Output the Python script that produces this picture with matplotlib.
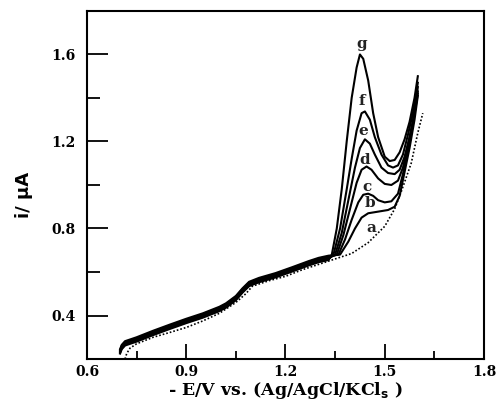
import matplotlib
matplotlib.use("Agg")
import matplotlib.pyplot as plt
from matplotlib.ticker import MultipleLocator

# ---------------- data ----------------
# shared low-potential background part of the solid voltammograms
e_base = [0.700, 0.705, 0.715, 0.75, 0.80, 0.85, 0.90, 0.95, 1.00, 1.02, 1.05,
          1.07, 1.09, 1.12, 1.17, 1.22, 1.27, 1.30, 1.33]
i_base = [0.235, 0.255, 0.272, 0.29, 0.32, 0.348, 0.375, 0.40, 0.43, 0.446, 0.48,
          0.515, 0.545, 0.563, 0.585, 0.612, 0.64, 0.655, 0.665]

# peak regions of curves b..g
e_g = [1.34, 1.355, 1.37, 1.385, 1.40, 1.415, 1.425, 1.435, 1.45, 1.465, 1.48, 1.50,
       1.515, 1.53, 1.545, 1.56, 1.575, 1.59, 1.60]
i_g = [0.68, 0.80, 0.98, 1.20, 1.40, 1.54, 1.60, 1.58, 1.48, 1.33, 1.22, 1.13,
       1.11, 1.115, 1.15, 1.21, 1.29, 1.40, 1.50]
e_f = [1.345, 1.365, 1.385, 1.40, 1.415, 1.43, 1.44, 1.455, 1.47, 1.49, 1.51, 1.525,
       1.54, 1.555, 1.57, 1.585, 1.60]
i_f = [0.68, 0.80, 0.98, 1.12, 1.25, 1.33, 1.338, 1.30, 1.22, 1.14, 1.09, 1.08,
       1.09, 1.14, 1.23, 1.33, 1.47]
e_e = [1.35, 1.37, 1.39, 1.41, 1.425, 1.44, 1.455, 1.47, 1.49, 1.51, 1.53, 1.545,
       1.56, 1.575, 1.59, 1.60]
i_e = [0.68, 0.78, 0.93, 1.08, 1.17, 1.21, 1.19, 1.14, 1.08, 1.055, 1.05, 1.07,
       1.13, 1.22, 1.33, 1.45]
e_d = [1.355, 1.375, 1.395, 1.415, 1.43, 1.445, 1.46, 1.48, 1.50, 1.52, 1.54, 1.555,
       1.57, 1.585, 1.60]
i_d = [0.68, 0.77, 0.89, 1.01, 1.07, 1.085, 1.07, 1.03, 1.005, 1.00, 1.02, 1.08,
       1.18, 1.29, 1.43]
e_c = [1.36, 1.38, 1.40, 1.42, 1.435, 1.45, 1.465, 1.48, 1.50, 1.52, 1.54, 1.555,
       1.57, 1.585, 1.60]
i_c = [0.68, 0.75, 0.84, 0.92, 0.955, 0.96, 0.95, 0.93, 0.92, 0.925, 0.96, 1.05,
       1.16, 1.28, 1.42]
e_b = [1.365, 1.39, 1.41, 1.43, 1.45, 1.47, 1.49, 1.51, 1.53, 1.545, 1.56, 1.575,
       1.59, 1.60]
i_b = [0.68, 0.74, 0.80, 0.85, 0.87, 0.875, 0.88, 0.885, 0.90, 0.95, 1.06, 1.17,
       1.30, 1.41]

# curve a (blank, dotted)
e_a = [0.715, 0.72, 0.73, 0.75, 0.80, 0.85, 0.90, 0.95, 1.00, 1.05, 1.08, 1.10,
       1.15, 1.20, 1.25, 1.30, 1.35, 1.40, 1.45, 1.50, 1.53, 1.55, 1.58, 1.60, 1.615]
i_a = [0.20, 0.225, 0.25, 0.27, 0.30, 0.322, 0.345, 0.375, 0.41, 0.46, 0.50, 0.535,
       0.56, 0.58, 0.61, 0.635, 0.66, 0.685, 0.735, 0.81, 0.89, 0.97, 1.10, 1.24, 1.33]

labels = ["g", "f", "e", "d", "c", "b", "a"]
label_e = [1.43, 1.43, 1.435, 1.44, 1.445, 1.455, 1.46]
label_i = [1.646, 1.385, 1.246, 1.115, 0.992, 0.915, 0.80]

x_ticks_major = [0.6, 0.9, 1.2, 1.5, 1.8]
y_ticks_major = [0.4, 0.8, 1.2, 1.6]

# ---------------- plot ----------------
fig = plt.figure(figsize=(4.96, 4.01), dpi=100)
ax = fig.add_axes([0.1754, 0.1047, 0.8004, 0.868])

serif = "DejaVu Serif"
solid = [(e_g, i_g), (e_f, i_f), (e_e, i_e), (e_d, i_d), (e_c, i_c), (e_b, i_b)]
for k, (ee, ii) in enumerate(solid):
    off = 0.004 * (k - 2.5)
    xs = list(e_base) + list(ee)
    ys = [v + off for v in i_base] + list(ii)
    ax.plot(xs, ys, color="black", lw=1.5, solid_joinstyle="round")
ax.plot(e_a, i_a, color="black", lw=1.2, linestyle=(0, (1, 1.2)))

for t, xe, yi in zip(labels, label_e, label_i):
    ax.text(xe, yi, t, ha="center", va="center", fontsize=11,
            fontweight="bold", family=serif, color="#222222")

ax.set_xlim(0.6, 1.8)
ax.set_ylim(0.2, 1.8)
ax.set_xticks(x_ticks_major)
ax.set_yticks(y_ticks_major)
ax.xaxis.set_minor_locator(MultipleLocator(0.15))
ax.yaxis.set_minor_locator(MultipleLocator(0.2))
ax.tick_params(which="major", direction="in", length=11, width=1.3,
               top=False, right=False)
ax.tick_params(which="minor", direction="in", length=6, width=1.3,
               top=False, right=False)
ax.tick_params(axis="x", which="major", pad=4)
ax.tick_params(axis="y", which="major", length=15, pad=8)
ax.tick_params(axis="y", which="minor", length=9)
for lab in ax.get_xticklabels() + ax.get_yticklabels():
    lab.set_fontfamily(serif)
    lab.set_fontweight("bold")
    lab.set_fontsize(10)
for s in ax.spines.values():
    s.set_linewidth(1.5)

ax.set_xlabel("- E/V vs. (Ag/AgCl/KCl$_\\mathbf{s}$ )", fontsize=12.5,
              fontweight="bold", family=serif)
ax.xaxis.set_label_coords(0.5, -0.06)
ax.set_ylabel("i/ \u03bcA", fontsize=13, fontweight="bold",
              family="DejaVu Sans")
ax.yaxis.set_label_coords(-0.137, 0.47)

fig.savefig("out.png", dpi=100)
